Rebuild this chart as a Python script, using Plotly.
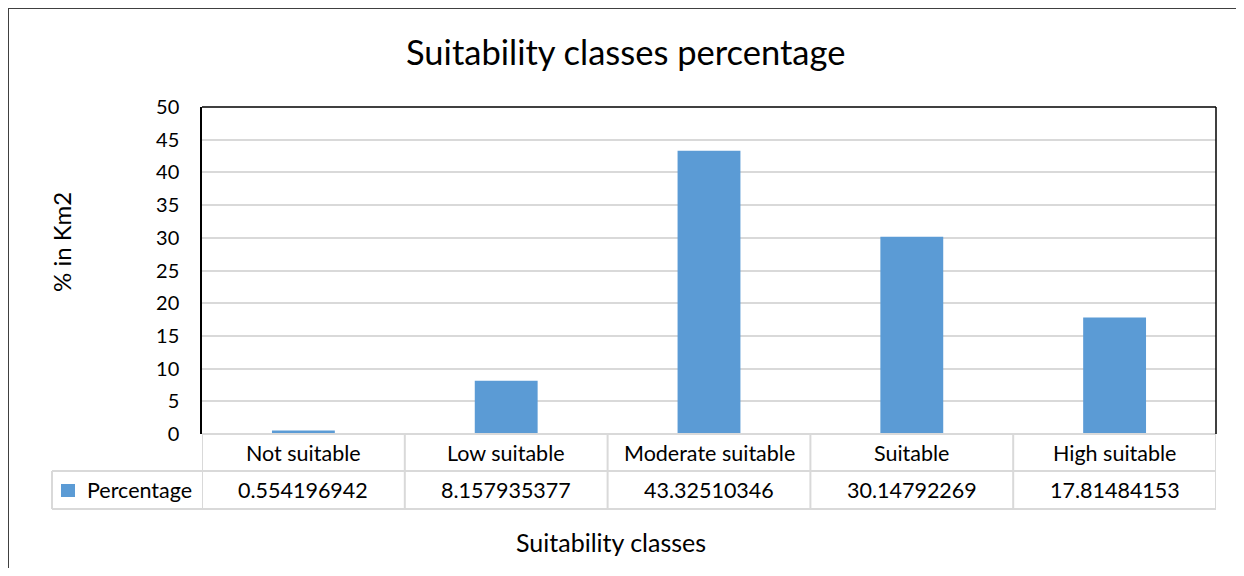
import plotly.graph_objects as go

categories = ["Not suitable", "Low suitable", "Moderate suitable", "Suitable", "High suitable"]
percentages = [0.554196942, 8.157935377, 43.32510346, 30.14792269, 17.81484153]
series_name = "Percentage"
chart_title = "Suitability classes percentage"
x_title = "Suitability classes"
y_title = "% in Km2"
y_ticks = [0, 5, 10, 15, 20, 25, 30, 35, 40, 45, 50]

BAR = "#5B9BD5"
GRID = "#D9D9D9"
FONT = "Lato"

# page body has an 8px margin; figure sized to fit the 1244x576 window without scrollbars
OFF = 8
W, H = 1244 - 2 * OFF, 576 - 2 * OFF
L = 202 - OFF
R = W - (1216 - OFF)
T = 107 - OFF
B = H - (434 - OFF)
PW, PH = W - L - R, H - T - B


def px_x(p):
    return (p - OFF - L) / PW


def px_y(p):
    return (H - B - (p - OFF)) / PH


fig = go.Figure()
fig.add_trace(go.Bar(x=list(range(len(categories))), y=percentages, name=series_name,
                     marker=dict(color=BAR, line=dict(width=0)), width=0.31,
                     showlegend=False))

shapes = []
ann = []
n = len(categories)
row0_top, row1_top, row2_bot = px_y(434), px_y(471), px_y(509)
# table horizontal lines
shapes.append(dict(type="line", xref="x", yref="paper", x0=-0.5, x1=n - 0.5, y0=row0_top, y1=row0_top,
                   line=dict(color=GRID, width=2)))
for yy in (row1_top, row2_bot):
    shapes.append(dict(type="line", xref="paper", yref="paper", x0=px_x(52), x1=1, y0=yy, y1=yy,
                       line=dict(color=GRID, width=2)))
# vertical lines
for i in range(n + 1):
    shapes.append(dict(type="line", xref="x", yref="paper", x0=i - 0.5, x1=i - 0.5, y0=row0_top, y1=row2_bot,
                       line=dict(color=GRID, width=2)))
shapes.append(dict(type="line", xref="paper", yref="paper", x0=px_x(52), x1=px_x(52), y0=row1_top, y1=row2_bot,
                   line=dict(color=GRID, width=2)))
# plot area top/right border
shapes.append(dict(type="line", xref="paper", yref="paper", x0=0, x1=1, y0=1, y1=1,
                   line=dict(color="black", width=1.5)))
shapes.append(dict(type="line", xref="paper", yref="paper", x0=1, x1=1, y0=0, y1=1,
                   line=dict(color="black", width=1.5)))
# outer chart frame (left and top)
shapes.append(dict(type="line", xref="paper", yref="paper", x0=px_x(8), x1=px_x(8), y0=px_y(7), y1=px_y(600),
                   line=dict(color="#404040", width=2)))
shapes.append(dict(type="line", xref="paper", yref="paper", x0=px_x(7), x1=px_x(1300), y0=px_y(8), y1=px_y(8),
                   line=dict(color="#404040", width=2)))
# legend key square
shapes.append(dict(type="rect", xref="paper", yref="paper", x0=px_x(61), x1=px_x(75), y0=px_y(484), y1=px_y(497),
                   fillcolor=BAR, line=dict(width=0)))

tf = dict(family=FONT, size=21.5, color="black")
for i, (c, v) in enumerate(zip(categories, percentages)):
    ann.append(dict(x=i, y=px_y(452.5), xref="x", yref="paper", text=c, showarrow=False, font=tf,
                    xanchor="center", yanchor="middle"))
    ann.append(dict(x=i, y=px_y(490), xref="x", yref="paper", text="{:.10g}".format(v), showarrow=False,
                    font=tf, xanchor="center", yanchor="middle"))
ann.append(dict(x=px_x(85), y=px_y(490), xref="paper", yref="paper", text=series_name, showarrow=False,
                font=tf, xanchor="left", yanchor="middle"))
ann.append(dict(x=px_x(611), y=px_y(542), xref="paper", yref="paper", text=x_title, showarrow=False,
                font=dict(family=FONT, size=25, color="black"), xanchor="center", yanchor="middle"))
ann.append(dict(x=px_x(61), y=px_y(242), xref="paper", yref="paper", text=y_title, showarrow=False,
                font=dict(family=FONT, size=24, color="black"), textangle=-90,
                xanchor="center", yanchor="middle"))
ann.append(dict(x=px_x(625), y=px_y(51), xref="paper", yref="paper", text=chart_title, showarrow=False,
                font=dict(family=FONT, size=34.5, color="black"), xanchor="center", yanchor="middle"))

fig.update_layout(
    width=W, height=H,
    margin=dict(l=L, r=R, t=T, b=B, autoexpand=False),
    paper_bgcolor="white", plot_bgcolor="white",
    shapes=shapes, annotations=ann,
    xaxis=dict(range=[-0.5, n - 0.5], showticklabels=False, showgrid=False, zeroline=False,
               showline=False, ticks=""),
    yaxis=dict(range=[0, 50], tickvals=y_ticks, showgrid=True, gridcolor=GRID, gridwidth=1.5,
               zeroline=False, showline=True, linecolor="black", linewidth=1.5, ticks="",
               ticklabelstandoff=17, tickfont=dict(family=FONT, size=20, color="black")),
)

fig.write_html("out.html")
